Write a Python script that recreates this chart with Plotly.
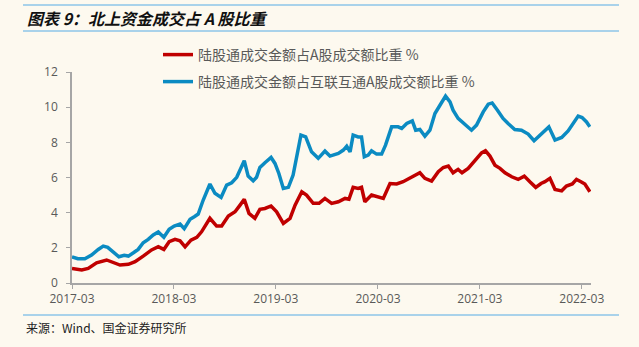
import plotly.graph_objects as go

# ---- data ----
red_dates = [
    "2017-03-01", "2017-04-05", "2017-04-28", "2017-05-28", "2017-07-03", "2017-07-27",
    "2017-08-20", "2017-09-19", "2017-10-13", "2017-11-11", "2017-12-11", "2018-01-04",
    "2018-01-24", "2018-02-12", "2018-03-05", "2018-03-23", "2018-04-10", "2018-05-01",
    "2018-05-22", "2018-06-08", "2018-06-20", "2018-07-08", "2018-08-01", "2018-08-19",
    "2018-09-12", "2018-10-06", "2018-10-24", "2018-11-08", "2018-11-25", "2018-12-16",
    "2019-01-03", "2019-01-21", "2019-02-12", "2019-03-04", "2019-03-28", "2019-04-21",
    "2019-05-09", "2019-06-02", "2019-06-19", "2019-07-13", "2019-08-03", "2019-08-24",
    "2019-09-17", "2019-10-11", "2019-11-04", "2019-11-18", "2019-12-03", "2019-12-21",
    "2020-01-02", "2020-01-14", "2020-02-07", "2020-03-02", "2020-03-20", "2020-04-13",
    "2020-05-07", "2020-05-30", "2020-06-23", "2020-07-11", "2020-07-29", "2020-08-16",
    "2020-09-09", "2020-10-03", "2020-10-21", "2020-11-08", "2020-11-25", "2020-12-13",
    "2020-12-27", "2021-01-18", "2021-02-11", "2021-03-07", "2021-03-21", "2021-04-06",
    "2021-04-24", "2021-05-12", "2021-05-30", "2021-06-23", "2021-07-16", "2021-08-07",
    "2021-08-27", "2021-09-17", "2021-10-06", "2021-10-20", "2021-11-07", "2021-11-25",
    "2021-12-19", "2022-01-05", "2022-01-26", "2022-02-10", "2022-02-26", "2022-03-12",
    "2022-03-30",
]
red_values = [
    0.83, 0.74, 0.83, 1.15, 1.31, 1.15,
    1.02, 1.06, 1.21, 1.53, 1.88, 2.06,
    1.91, 2.35, 2.48, 2.40, 2.06, 2.44,
    2.60, 2.91, 3.20, 3.68, 3.24, 3.24,
    3.81, 4.05, 4.43, 4.76, 3.96, 3.68,
    4.19, 4.24, 4.38, 4.05, 3.39, 3.68,
    4.43, 5.19, 5.00, 4.53, 4.53, 4.81,
    4.53, 4.62, 4.81, 4.76, 5.44, 5.38,
    5.44, 4.62, 5.00, 4.90, 4.81, 5.66,
    5.63, 5.76, 5.95, 6.14, 6.27, 5.95,
    5.80, 6.33, 6.57, 6.65, 6.27, 6.46,
    6.27, 6.52, 6.99, 7.40, 7.52, 7.22,
    6.70, 6.52, 6.27, 6.04, 5.89, 6.08,
    5.76, 5.44, 5.66, 5.76, 5.95, 5.32,
    5.24, 5.51, 5.63, 5.89, 5.76, 5.63,
    5.19,
]

blue_dates = [
    "2017-03-01", "2017-03-22", "2017-04-16", "2017-05-10", "2017-06-03", "2017-06-21",
    "2017-07-07", "2017-07-27", "2017-08-16", "2017-09-04", "2017-09-19", "2017-10-07",
    "2017-10-24", "2017-11-11", "2017-11-29", "2017-12-17", "2018-01-04", "2018-01-24",
    "2018-02-12", "2018-03-02", "2018-03-23", "2018-04-07", "2018-04-28", "2018-05-13",
    "2018-05-27", "2018-06-14", "2018-07-08", "2018-07-26", "2018-08-17", "2018-09-06",
    "2018-09-24", "2018-10-12", "2018-10-24", "2018-11-08", "2018-11-22", "2018-12-10",
    "2018-12-22", "2019-01-03", "2019-01-21", "2019-02-12", "2019-02-26", "2019-03-12",
    "2019-03-28", "2019-04-15", "2019-05-02", "2019-05-18", "2019-05-30", "2019-06-16",
    "2019-07-07", "2019-07-31", "2019-08-24", "2019-09-11", "2019-10-11", "2019-10-29",
    "2019-11-10", "2019-11-22", "2019-12-03", "2019-12-21", "2020-01-02", "2020-01-12",
    "2020-01-26", "2020-02-07", "2020-02-25", "2020-03-14", "2020-03-28", "2020-04-19",
    "2020-05-12", "2020-05-25", "2020-06-12", "2020-07-02", "2020-07-14", "2020-07-29",
    "2020-08-16", "2020-09-03", "2020-09-21", "2020-10-09", "2020-10-29", "2020-11-14",
    "2020-11-25", "2020-12-13", "2021-01-12", "2021-01-30", "2021-02-17", "2021-03-13",
    "2021-03-31", "2021-04-14", "2021-05-03", "2021-05-23", "2021-06-10", "2021-07-04",
    "2021-07-28", "2021-08-21", "2021-09-11", "2021-10-02", "2021-10-20", "2021-11-03",
    "2021-11-25", "2021-12-19", "2022-01-11", "2022-01-29", "2022-02-16", "2022-03-02",
    "2022-03-18", "2022-03-30",
]
blue_values = [
    1.49, 1.38, 1.38, 1.59, 1.91, 2.10,
    2.03, 1.78, 1.49, 1.57, 1.53, 1.72,
    1.91, 2.29, 2.48, 2.73, 2.90, 2.60,
    3.05, 3.24, 3.35, 3.09, 3.62, 3.77,
    3.92, 4.72, 5.63, 5.10, 4.87, 5.57,
    5.70, 6.01, 6.42, 6.95, 6.08, 5.81,
    6.01, 6.57, 6.84, 7.14, 6.80, 6.23,
    5.38, 5.44, 6.14, 7.46, 8.41, 8.31,
    7.46, 7.09, 7.50, 7.22, 7.37, 7.56,
    7.78, 7.46, 8.41, 8.31, 8.31, 7.18,
    7.27, 7.52, 7.33, 7.33, 7.84, 8.88,
    8.88, 8.79, 9.07, 9.22, 8.69, 8.73,
    8.35, 8.69, 9.64, 10.11, 10.63, 10.30,
    9.83, 9.36, 8.98, 8.69, 8.98, 9.73,
    10.17, 10.24, 9.83, 9.36, 9.07, 8.73,
    8.69, 8.47, 8.09, 8.41, 8.69, 8.88,
    8.13, 8.28, 8.65, 9.11, 9.49, 9.41,
    9.16, 8.88,
]

red_name = "陆股通成交金额占A股成交额比重 %"
blue_name = "陆股通成交金额占互联互通A股成交额比重 %"

tick_dates = ["2017-03-01", "2018-03-01", "2019-03-01", "2020-03-01", "2021-03-01", "2022-03-01"]
tick_labels = ["2017-03", "2018-03", "2019-03", "2020-03", "2021-03", "2022-03"]
y_ticks = [0, 2, 4, 6, 8, 10, 12]

title_text = "图表 9：北上资金成交占 A 股比重"
source_text = "来源：Wind、国金证券研究所"

# ---- styling ----
BG = "#FDF9EF"
RED = "#C00000"
BLUE = "#0B8BC2"
AXIS = "#A6A6A6"
TXT = "#595959"
RULE = "#8CC4E8"
FONT = "Noto Sans CJK SC"

fig = go.Figure()
fig.add_trace(go.Scatter(x=red_dates, y=red_values, mode="lines", name=red_name,
                         line=dict(color=RED, width=3.5), legend="legend"))
fig.add_trace(go.Scatter(x=blue_dates, y=blue_values, mode="lines", name=blue_name,
                         line=dict(color=BLUE, width=3.5), legend="legend2"))

W, H = 639, 347
L, R, T, B = 72, 48, 72, 64
pw, ph = W - L - R, H - T - B


def px_x(p):
    return (p - L) / pw


def px_y(p):
    return (H - B - p) / ph


fig.update_layout(
    width=W, height=H,
    margin=dict(l=L, r=R, t=T, b=B),
    paper_bgcolor=BG, plot_bgcolor=BG,
    font=dict(family=FONT, color=TXT, size=12),
    showlegend=True,
    legend=dict(x=px_x(158), y=px_y(55), xanchor="left", yanchor="middle",
                bgcolor="rgba(0,0,0,0)", font=dict(size=14, color=TXT, family=FONT)),
    legend2=dict(x=px_x(158), y=px_y(82), xanchor="left", yanchor="middle",
                 bgcolor="rgba(0,0,0,0)", font=dict(size=14, color=TXT, family=FONT)),
    xaxis=dict(type="date", range=["2017-03-01", "2022-04-03"],
               tickvals=tick_dates, ticktext=tick_labels,
               showgrid=False, zeroline=False,
               showline=True, linecolor=AXIS, linewidth=1.5,
               ticks="outside", ticklen=4, tickcolor=AXIS, tickwidth=1,
               tickfont=dict(size=12, color=TXT, family="Open Sans")),
    yaxis=dict(range=[0, 12], tickvals=y_ticks, showgrid=False, zeroline=False,
               showline=True, linecolor=AXIS, linewidth=1.5,
               ticks="outside", ticklen=4, tickcolor=AXIS, tickwidth=1,
               ticklabelstandoff=6,
               tickfont=dict(size=12, color=TXT, family="Open Sans")),
)

# title and source
fig.add_annotation(text=title_text, xref="paper", yref="paper",
                   x=px_x(25), y=px_y(18), xanchor="left", yanchor="middle",
                   showarrow=False,
                   font=dict(size=16, color="#111111", family=FONT, weight="bold", style="italic"))
fig.add_annotation(text=source_text, xref="paper", yref="paper",
                   x=px_x(24), y=px_y(327), xanchor="left", yanchor="middle",
                   showarrow=False, font=dict(size=12, color="#222222", family=FONT))

# horizontal rules
for yy in (5, 31, 315):
    fig.add_shape(type="line", xref="paper", yref="paper",
                  x0=px_x(23), x1=px_x(619), y0=px_y(yy), y1=px_y(yy),
                  line=dict(color=RULE, width=1.5))

fig.write_html("out.html")
